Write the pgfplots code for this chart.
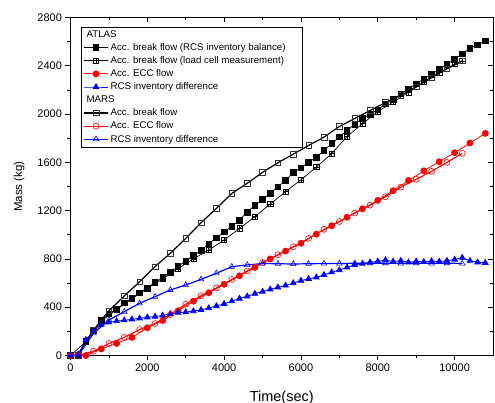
\documentclass[border=0pt]{standalone}
\usepackage{fontspec}
\setmainfont{Liberation Sans}
\usepackage{pgfplots}
\pgfplotsset{compat=1.18}

% square with a cross inside (load cell marker)
\pgfdeclareplotmark{boxplus}{%
  \pgfpathrectangle{\pgfqpoint{-\pgfplotmarksize}{-\pgfplotmarksize}}{\pgfqpoint{2\pgfplotmarksize}{2\pgfplotmarksize}}%
  \pgfpathmoveto{\pgfqpoint{-\pgfplotmarksize}{0pt}}\pgfpathlineto{\pgfqpoint{\pgfplotmarksize}{0pt}}%
  \pgfpathmoveto{\pgfqpoint{0pt}{-\pgfplotmarksize}}\pgfpathlineto{\pgfqpoint{0pt}{\pgfplotmarksize}}%
  \pgfusepathqstroke}

\pgfplotsset{
  frame/.style={
    scale only axis, width=422.5pt, height=338pt,
    at={(0,0)}, anchor=south west,
    xmin=0, xmax=11000, ymin=0, ymax=2800,
    xtick={0,2000,...,10000}, ytick={0,400,...,2800},
    scaled ticks=false,
    minor x tick num=1, minor y tick num=1,
    major tick length=5pt, minor tick length=3pt,
    axis line style={line width=0.9pt},
    every tick/.style={black, line width=0.8pt},
  },
}

\begin{document}
\begin{tikzpicture}
\useasboundingbox (-70.5pt,-47.5pt) rectangle (424.5pt,355.5pt);
% top and right ticks point inwards
\begin{axis}[frame, tick align=inside, xtick pos=right, ytick pos=right,
  xticklabels={}, yticklabels={}]
\end{axis}
\begin{axis}[frame, tick align=outside, xtick pos=left, ytick pos=left,
  /pgf/number format/assume math mode=true,
  /pgf/number format/1000 sep={},
  ticklabel style={font=\fontsize{11}{13}\selectfont},
  xlabel={Time(sec)}, ylabel={Mass (kg)},
  xlabel style={font=\fontsize{14.5}{16}\selectfont, yshift=-12pt},
  ylabel style={font=\fontsize{11.5}{13}\selectfont, yshift=6pt},
  legend cell align=left,
  legend style={at={(0.025,0.973)}, anchor=north west, draw=black,
    line width=0.7pt, font=\fontsize{9.7}{10.5}\selectfont,
    row sep=0.6pt, inner xsep=2pt, inner ysep=1.5pt},
  legend image code/.code={\draw[mark repeat=2,mark phase=2,#1]
    plot coordinates {(0pt,0pt) (12pt,0pt) (24pt,0pt)};},
]
\addlegendimage{empty legend}
\addlegendentry{\hspace*{-24pt}ATLAS}

% ATLAS break flow, RCS inventory balance
\addplot[black, line width=0.7pt, mark=square*, mark size=2.8pt] coordinates {
(0,0) (200,5) (400,120) (600,210) (800,290) (1000,345) (1200,385) (1400,435)
(1600,475) (1800,520) (2000,562) (2200,605) (2400,646) (2600,690) (2800,738)
(3000,782) (3200,828) (3400,870) (3600,925) (3800,975) (4000,1025) (4200,1070)
(4400,1122) (4600,1188) (4800,1246) (5000,1292) (5200,1345) (5400,1398)
(5600,1450) (5800,1515) (6000,1555) (6200,1600) (6400,1643) (6600,1700)
(6800,1755) (7000,1810) (7200,1864) (7400,1915) (7600,1963) (7800,2000)
(8000,2035) (8200,2085) (8400,2120) (8600,2168) (8800,2210) (9000,2250)
(9200,2292) (9400,2330) (9600,2370) (9800,2412) (10000,2455) (10200,2500)
(10400,2545) (10600,2575) (10800,2605)
};
\addlegendentry{Acc. break flow (RCS inventory balance)\hspace*{13pt}}

% ATLAS break flow, load cell
\addplot[black, line width=0.7pt, mark=boxplus, mark size=2.6pt,
  mark options={line width=0.6pt}] coordinates {
(0,0) (400,115) (800,285) (1200,380) (1600,470) (2000,555) (2400,635)
(2800,720) (3200,800) (3600,874) (4000,957) (4400,1053) (4800,1149)
(5200,1255) (5600,1357) (6000,1455) (6400,1560) (6800,1672) (7200,1814)
(7600,1920) (8000,2020) (8400,2100) (8800,2180) (9200,2265) (9600,2345)
(10000,2415) (10200,2440)
};
\addlegendentry{Acc. break flow (load cell measurement)}

% ATLAS ECC flow
\addplot[red, line width=0.8pt, mark=*, mark size=3pt] coordinates {
(0,0) (400,0) (800,55) (1200,100) (1600,150) (2000,230) (2400,290) (2800,370)
(3200,450) (3600,520) (4000,590) (4400,660) (4800,730) (5200,800) (5600,865)
(6000,930) (6400,1005) (6800,1075) (7200,1145) (7600,1215) (8000,1285)
(8400,1365) (8800,1450) (9200,1530) (9600,1605) (10000,1680) (10400,1760)
(10800,1840)
};
\addlegendentry{Acc. ECC flow}

% ATLAS RCS inventory difference
\addplot[blue, line width=0.8pt, mark=triangle*, mark size=3.2pt] coordinates {
(0,0) (200,10) (400,130) (600,200) (800,255) (1000,275) (1200,285) (1400,292)
(1600,300) (1800,308) (2000,316) (2200,323) (2400,332) (2600,345) (2800,355)
(3000,360) (3200,368) (3400,378) (3600,393) (3800,410) (4000,428) (4200,450)
(4400,472) (4600,490) (4800,512) (5000,530) (5200,548) (5400,565) (5600,580)
(5800,600) (6000,620) (6200,635) (6400,648) (6600,668) (6800,690) (7000,708)
(7200,730) (7400,750) (7600,762) (7800,772) (8000,780) (8200,790) (8400,778)
(8600,785) (8800,772) (9000,780) (9200,775) (9400,782) (9600,778) (9800,785)
(10000,795) (10200,810) (10400,785) (10600,772) (10800,768)
};
\addlegendentry{RCS inventory difference}

\addlegendimage{empty legend}
\addlegendentry{\hspace*{-24pt}MARS}

% MARS break flow
\addplot[black, line width=1.2pt, mark=square, mark size=2.8pt,
  mark options={line width=0.6pt, draw=black!80}] coordinates {
(200,0) (600,211) (1000,371) (1400,493) (1800,611) (2200,736) (2600,847)
(3000,970) (3400,1100) (3800,1219) (4200,1343) (4600,1426) (5000,1517)
(5400,1597) (5800,1668) (6200,1740) (6600,1809) (7000,1897) (7400,1963)
(7800,2030) (8200,2095) (8600,2155) (9000,2225) (9400,2300) (9800,2375)
(10200,2440)
};
\addlegendentry{Acc. break flow}

% MARS ECC flow
\addplot[red, line width=1.1pt, mark=o, mark size=3pt,
  mark options={line width=0.6pt}] coordinates {
(200,0) (600,35) (1000,100) (1400,150) (1800,215) (2200,265) (2600,340)
(3000,425) (3400,495) (3800,560) (4200,630) (4600,700) (5000,770) (5400,835)
(5800,900) (6200,970) (6600,1045) (7000,1110) (7400,1180) (7800,1245)
(8200,1315) (8600,1395) (9000,1460) (9400,1525) (9800,1600) (10200,1675)
};
\addlegendentry{Acc. ECC flow}

% MARS RCS inventory difference
\addplot[blue, line width=1.2pt, mark=triangle, mark size=3.2pt,
  mark options={line width=0.6pt}] coordinates {
(200,0) (600,184) (1000,294) (1400,363) (1800,432) (2200,487) (2600,543)
(3000,584) (3400,631) (3800,681) (4200,736) (4600,750) (5000,762) (5400,760)
(5800,758) (6200,760) (6600,762) (7000,762) (7400,764) (7800,765) (8200,765)
(8600,762) (9000,765) (9400,762) (9800,765) (10200,762)
};
\addlegendentry{RCS inventory difference}
\end{axis}
\end{tikzpicture}
\end{document}
